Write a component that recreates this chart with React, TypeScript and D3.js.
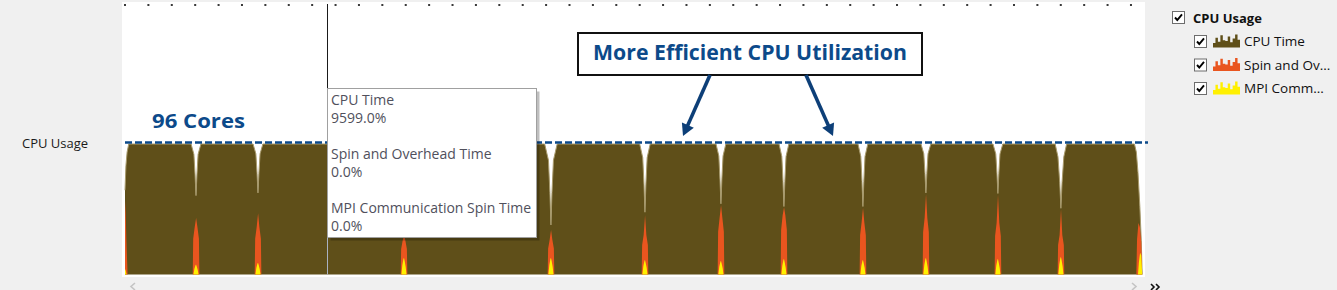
import React from "react";
import * as d3 from "d3";

// ---------- DATA (time in ms, values in % CPU, 9600% = 96 cores) ----------
const cpuTime: [number, number][] = [
  [0, 6200], [40, 8000], [90, 9000], [160, 9599],
  [2825, 9599], [2945, 8839], [2995, 7320], [3035, 5800], [3075, 7320], [3125, 8839], [3245, 9599],
  [5474, 9599], [5594, 8879], [5644, 7440], [5684, 6000], [5724, 7440], [5774, 8879], [5894, 9599],
  [11714, 9599], [11834, 8579], [11884, 6540], [11924, 4500], [11964, 6540], [12014, 8579], [12134, 9599],
  [17940, 9599], [18100, 8407], [18162, 6024], [18207, 3640], [18252, 6024], [18314, 8407], [18474, 9599],
  [22000, 9599], [22130, 8595], [22185, 6588], [22225, 4580], [22265, 6588], [22320, 8595], [22450, 9599],
  [25263, 9599], [25383, 8719], [25433, 6960], [25473, 5200], [25513, 6960], [25563, 8719], [25683, 9599],
  [27956, 9599], [28076, 8679], [28126, 6840], [28166, 5000], [28206, 6840], [28256, 8679], [28376, 9599],
  [31332, 9599], [31452, 8679], [31502, 6840], [31542, 5000], [31582, 6840], [31632, 8679], [31752, 9599],
  [34025, 9599], [34145, 8879], [34195, 7440], [34235, 6000], [34275, 7440], [34325, 8879], [34445, 9599],
  [37102, 9599], [37222, 8871], [37272, 7416], [37312, 5960], [37352, 7416], [37402, 8871], [37522, 9599],
  [39760, 9599], [39880, 8653], [39955, 6762], [40005, 4870], [40055, 6762], [40130, 8653], [40250, 9599],
  [43150, 9599], [43230, 9000], [43300, 7500], [43380, 5000], [43440, 2500], [43480, 0],
];

const spinOverhead: [number, number][] = [
  [0, 5450], [30, 4500], [60, 2500], [110, 0],
  [2895, 0], [2915, 2625], [2980, 3500], [3040, 4150], [3095, 3500], [3160, 2625], [3180, 0],
  [5544, 0], [5564, 2625], [5629, 3500], [5689, 4500], [5744, 3500], [5809, 2625], [5829, 0],
  [11784, 0], [11804, 1875], [11869, 2500], [11929, 2900], [11984, 2500], [12049, 1875], [12069, 0],
  [18067, 0], [18087, 1913], [18152, 2550], [18212, 3270], [18267, 2550], [18332, 1913], [18352, 0],
  [22085, 0], [22105, 2175], [22170, 2900], [22230, 4360], [22285, 2900], [22350, 2175], [22370, 0],
  [25333, 0], [25353, 3150], [25418, 4200], [25478, 5090], [25533, 4200], [25598, 3150], [25618, 0],
  [28026, 0], [28046, 3270], [28111, 4360], [28171, 4940], [28226, 4360], [28291, 3270], [28311, 0],
  [31402, 0], [31422, 2888], [31487, 3850], [31547, 4900], [31602, 3850], [31667, 2888], [31687, 0],
  [34095, 0], [34115, 3113], [34180, 4150], [34240, 5900], [34295, 4150], [34360, 3113], [34380, 0],
  [37172, 0], [37192, 2835], [37257, 3780], [37317, 5850], [37372, 3780], [37437, 2835], [37457, 0],
  [39865, 0], [39885, 2175], [39950, 2900], [40010, 4800], [40065, 2900], [40130, 2175], [40150, 0],
  [43230, 0], [43260, 2600], [43320, 3780], [43380, 3500], [43440, 2400], [43480, 0],
];

const mpiSpin: [number, number][] = [
  [0, 400], [30, 300], [70, 0],
  [2925, 0], [2965, 402], [3010, 657], [3035, 730], [3065, 584], [3110, 329], [3145, 0],
  [5574, 0], [5614, 479], [5659, 783], [5684, 870], [5714, 696], [5759, 392], [5794, 0],
  [11814, 0], [11854, 682], [11899, 1116], [11924, 1240], [11954, 992], [11999, 558], [12034, 0],
  [18097, 0], [18137, 682], [18182, 1116], [18207, 1240], [18237, 992], [18282, 558], [18317, 0],
  [22115, 0], [22155, 600], [22200, 981], [22225, 1090], [22255, 872], [22300, 491], [22335, 0],
  [25363, 0], [25403, 561], [25448, 918], [25473, 1020], [25503, 816], [25548, 459], [25583, 0],
  [28056, 0], [28096, 638], [28141, 1044], [28166, 1160], [28196, 928], [28241, 522], [28276, 0],
  [31432, 0], [31472, 600], [31517, 981], [31542, 1090], [31572, 872], [31617, 491], [31652, 0],
  [34125, 0], [34165, 682], [34210, 1116], [34235, 1240], [34265, 992], [34310, 558], [34345, 0],
  [37202, 0], [37242, 638], [37287, 1044], [37312, 1160], [37342, 928], [37387, 522], [37422, 0],
  [39895, 0], [39935, 721], [39980, 1179], [40005, 1310], [40035, 1048], [40080, 590], [40115, 0],
  [43300, 0], [43340, 900], [43390, 1600], [43440, 1400], [43480, 0],
];

const cursorTime = 8634;
const coresLine = 9600;
const tooltipRows: [string, string][] = [
  ["CPU Time", "9599.0%"],
  ["Spin and Overhead Time", "0.0%"],
  ["MPI Communication Spin Time", "0.0%"],
];
const legendItems = ["CPU Time", "Spin and Ov...", "MPI Comm..."];
const iconHeights = [0.35, 0.75, 0.45, 0.95, 0.55, 0.5, 0.85, 0.4, 0.7, 1, 0.6, 0.3];

// ---------- COLOURS ----------
const BROWN = "#5f4f19";
const ORANGE = "#e9551f";
const YELLOW = "#fff000";
const BLUE = "#0c4a8a";
const ARROW = "#0d3f78";

const xScale = d3.scaleLinear().domain([0, 43600]).range([125, 1145]);
const yScale = d3.scaleLinear().domain([0, 9599]).range([274.5, 144]);

const area = d3
  .area<[number, number]>()
  .x((d) => xScale(d[0]))
  .y0(yScale(0))
  .y1((d) => yScale(d[1]));
const line = d3
  .line<[number, number]>()
  .x((d) => xScale(d[0]))
  .y((d) => yScale(d[1]));

function Arrow({ x1, y1, x2, y2 }: { x1: number; y1: number; x2: number; y2: number }) {
  const dx = x2 - x1, dy = y2 - y1;
  const len = Math.hypot(dx, dy);
  const ux = dx / len, uy = dy / len;
  const head = 12, half = 6.5;
  const bx = x2 - ux * head, by = y2 - uy * head;
  const px = -uy, py = ux;
  return (
    <g>
      <line x1={x1} y1={y1} x2={bx + ux * 2} y2={by + uy * 2} stroke={ARROW} strokeWidth={3.6} />
      <polygon
        points={`${x2},${y2} ${bx + px * half},${by + py * half} ${bx - px * half},${by - py * half}`}
        fill={ARROW}
      />
    </g>
  );
}

function CheckBox({ x, y }: { x: number; y: number }) {
  return (
    <g transform={`translate(${x},${y})`}>
      <rect x={0.5} y={0.5} width={12} height={12} fill="#fff" stroke="#6d6d6d" />
      <path d="M3,6.5 L5.3,9 L10,3.3" fill="none" stroke="#000" strokeWidth={1.9} />
    </g>
  );
}

function Icon({ x, y, color }: { x: number; y: number; color: string }) {
  const ix = d3.scaleLinear().domain([0, iconHeights.length - 1]).range([0, 27]);
  const a = d3
    .area<number>()
    .x((_, i) => ix(i))
    .y0(14)
    .y1((d) => 14 - d * 13)
    .curve(d3.curveStepAfter);
  return <path transform={`translate(${x},${y})`} d={a(iconHeights) || ""} fill={color} />;
}

export default function App() {
  const cx = Math.round(xScale(cursorTime)) + 0.5;
  const ticks = xScale.ticks(44);
  const tipX = 327.5, tipY = 88.5, tipW = 209, tipH = 149;
  return (
    <svg
      width={1337}
      height={290}
      style={{ position: "absolute", left: 0, top: 0, display: "block" }}
      fontFamily="'Open Sans', 'Noto Sans', sans-serif"
    >
      <rect x={0} y={0} width={1337} height={290} fill="#f0f0f0" />
      <rect x={122} y={2} width={1023} height={275} fill="#ffffff" />

      {/* top ticks */}
      {ticks.map((t) => (
        <rect key={t} x={xScale(t) - 1} y={4} width={2} height={2} fill="#3a3a3a" />
      ))}

      {/* areas */}
      <path d={area(cpuTime) || ""} fill={BROWN} />
      <path d={line(cpuTime) || ""} fill="none" stroke="#a89a6c" strokeWidth={1} />
      <path d={area(spinOverhead) || ""} fill={ORANGE} />
      <path d={area(mpiSpin) || ""} fill={YELLOW} />

      {/* 96 cores line */}
      <line
        x1={125}
        x2={1148}
        y1={yScale(coresLine) - 1.5}
        y2={yScale(coresLine) - 1.5}
        stroke={BLUE}
        strokeWidth={2.5}
        strokeDasharray="7 3"
      />
      <text x={152} y={128} fontSize={20} fontWeight={700} fill={BLUE} textLength={93} lengthAdjust="spacingAndGlyphs">
        96 Cores
      </text>

      {/* annotation */}
      <rect x={578} y={33} width={344} height={42} fill="#fff" stroke="#111" strokeWidth={2} />
      <text x={593} y={59.5} fontSize={21} fontWeight={700} fill={BLUE} textLength={314} lengthAdjust="spacingAndGlyphs">
        More Efficient CPU Utilization
      </text>
      <Arrow x1={710} y1={75} x2={683} y2={136} />
      <Arrow x1={806} y1={75} x2={833} y2={136} />

      {/* cursor */}
      <line x1={cx} x2={cx} y1={4} y2={tipY} stroke="#1a1a1a" strokeWidth={1} />
      <line x1={cx} x2={cx} y1={tipY + tipH} y2={274.5} stroke="#a9b1c1" strokeWidth={1} />

      {/* tooltip */}
      <rect x={tipX + 3} y={tipY + 3} width={tipW} height={tipH} fill="#000" opacity={0.25} />
      <rect x={tipX} y={tipY} width={tipW} height={tipH} fill="#fff" stroke="#a0a0a0" strokeWidth={1} />
      {tooltipRows.map(([label, val], i) => (
        <g key={label} fontSize={14} fill="#50505c">
          <text x={331} y={105 + i * 54}>{label}</text>
          <text x={331} y={123 + i * 54}>{val}</text>
        </g>
      ))}

      {/* left label */}
      <text x={22} y={148} fontSize={13} fill="#1a1a1a">CPU Usage</text>

      {/* legend */}
      <CheckBox x={1172} y={11} />
      <text x={1193} y={23} fontSize={13} fontWeight={700} fill="#111">CPU Usage</text>
      {legendItems.map((name, i) => (
        <g key={name}>
          <CheckBox x={1194} y={35 + i * 23.5} />
          <Icon x={1213} y={33.5 + i * 23.5} color={[BROWN, ORANGE, YELLOW][i]} />
          <text x={1244} y={46 + i * 23.5} fontSize={13.5} fill="#111">{name}</text>
        </g>
      ))}

      {/* scroll arrows */}
      <path d="M135,283 L131,286.5 L135,290" fill="none" stroke="#c4c4c4" strokeWidth={1.6} />
      <path d="M1132,283 L1136,286.5 L1132,290" fill="none" stroke="#c4c4c4" strokeWidth={1.6} />
      <path d="M1151,284 L1154,287 L1151,290 M1156,284 L1159,287 L1156,290" fill="none" stroke="#111" strokeWidth={1.6} />
    </svg>
  );
}
